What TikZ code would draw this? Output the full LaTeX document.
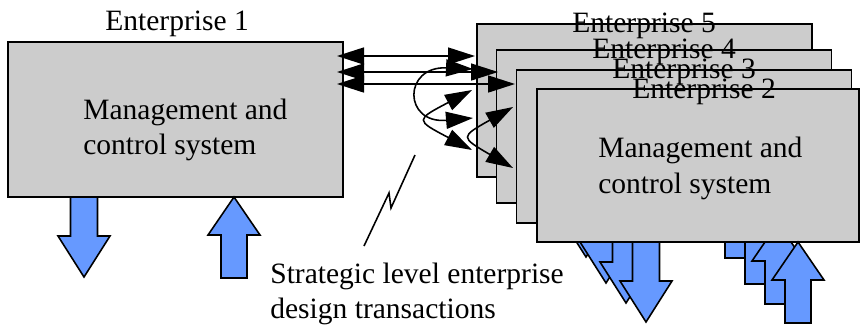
\documentclass[tikz,border=0pt]{standalone}
\usepackage{fontspec}
\setmainfont{Liberation Serif}
\usetikzlibrary{arrows.meta}
\definecolor{boxgray}{RGB}{204,204,204}
\definecolor{flowblue}{RGB}{102,153,255}
\newcommand{\downblock}[2]{\draw[block] (#1-13.5,#2) -- (#1+13.5,#2) -- (#1+13.5,#2+39) -- (#1+26,#2+39) -- (#1,#2+80) -- (#1-26,#2+39) -- (#1-13.5,#2+39) -- cycle;}
\newcommand{\upblock}[2]{\draw[block] (#1,#2) -- (#1+26,#2+38) -- (#1+13,#2+38) -- (#1+13,#2+81) -- (#1-13,#2+81) -- (#1-13,#2+38) -- (#1-26,#2+38) -- cycle;}
\begin{document}
\begin{tikzpicture}
	[x=0.02cm,y=-0.02cm,every node/.style={font=\fontsize{16.8}{20}\selectfont, inner sep=0pt}]
	\tikzstyle{box} = [draw, line width=0.9pt, fill=boxgray, minimum width=6.7cm, minimum height=3.06cm];
	\tikzstyle{block} = [draw, line width=0.9pt, fill=flowblue, line join=miter];
	\tikzstyle{link} = [line width=0.9pt, {Triangle[length=0.54cm,width=0.34cm]}-{Triangle[length=0.54cm,width=0.34cm]}];
	\useasboundingbox (0,0) rectangle (861,326);
	
	% enterprise 1
	\node[box, minimum height=3.1cm] (e1) at (175.5,119.5) {};
	\node[anchor=base west] (t1) at (105,30) {Enterprise 1};
	\node[anchor=base west] (m1a) at (83,119) {Management and};
	\node[anchor=base west] (m1b) at (83,154) {control system};
	\downblock{84}{197}
	\upblock{234}{197}
	
	% stacked enterprises
	\node[box] (e5) at (644.5,100.5) {};
	\node[anchor=base west] (t5) at (572,32) {Enterprise 5};
	\downblock{586}{177}
	\upblock{738}{177}
	
	\node[box] (e4) at (664,126.5) {};
	\node[anchor=base west] (t4) at (592,58) {Enterprise 4};
	\downblock{606}{203}
	\upblock{758}{203}
	
	\node[box] (e3) at (684,146.5) {};
	\node[anchor=base west] (t3) at (612,78) {Enterprise 3};
	\downblock{626}{223}
	\upblock{778}{223}
	
	\node[box, minimum width=6.44cm] (e2) at (698,165.5) {};
	\node[anchor=base west] (t2) at (632,98) {Enterprise 2};
	\node[anchor=base west] (m2a) at (598,157) {Management and};
	\node[anchor=base west] (m2b) at (598,193) {control system};
	\downblock{646}{242}
	\upblock{798}{242}
	
	% transactions
	\coordinate (p1) at (337,56);
	\coordinate (p2) at (337,72);
	\coordinate (p3) at (337,84);
	\coordinate (q5) at (475,56);
	\coordinate (q4) at (498,72);
	\coordinate (q3) at (515,84);
	\draw[link] (p1) -- (q5);
	\draw[link] (p2) -- (q4);
	\draw[link] (p3) -- (q3);
	
	\coordinate (a1) at (473,69);
	\coordinate (a2) at (473,118);
	\coordinate (b1) at (472,90);
	\coordinate (b2) at (472,150);
	\coordinate (c1) at (513,107);
	\coordinate (c2) at (513,168);
	\draw[link] (a1) .. controls (403,66) and (403,124) .. (a2);
	\draw[link] (b1) .. controls (415,120) .. (b2);
	\draw[link] (c1) .. controls (460,137) .. (c2);
	
	% note
	\coordinate (z1) at (364,246);
	\coordinate (z2) at (415,155);
	\draw[line width=0.9pt] (z1) -- (389,193) -- (391,208) -- (z2);
	\node[anchor=base west] (s1) at (270,283) {Strategic level enterprise};
	\node[anchor=base west] (s2) at (270,318) {design transactions};
\end{tikzpicture}
\end{document}
